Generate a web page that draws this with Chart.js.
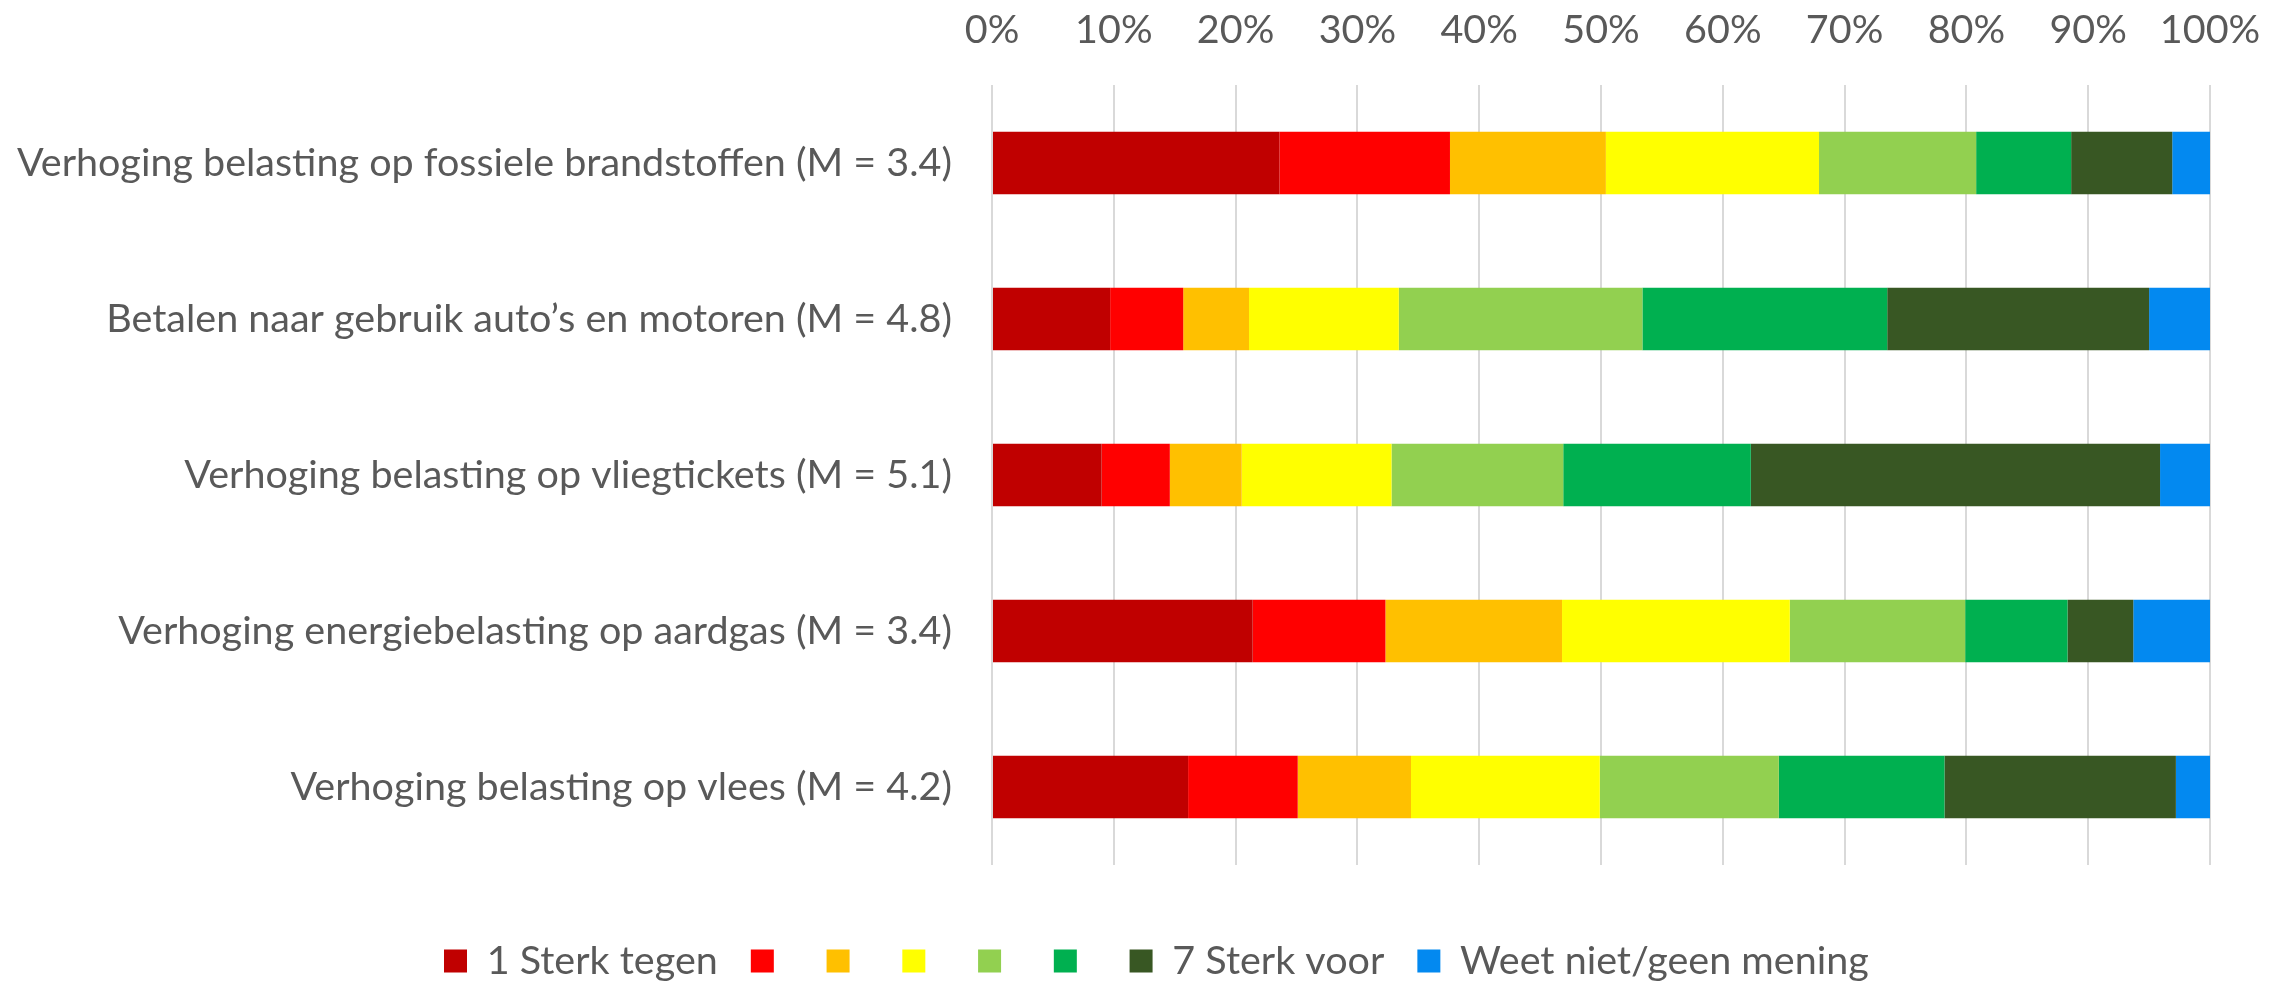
<!DOCTYPE html>
<html>
<head>
<meta charset="utf-8">
<script src="https://cdn.jsdelivr.net/npm/chart.js@4/dist/chart.umd.min.js"></script>
<style>
  html, body { margin: 0; padding: 0; background: #ffffff; }
  #wrap { width: 2280px; height: 987px; position: relative; }
</style>
</head>
<body>
<div id="wrap"><canvas id="c" width="2280" height="987"></canvas></div>
<script>
// ---- data ----
const categories = [
  "Verhoging belasting op fossiele brandstoffen (M = 3.4)",
  "Betalen naar gebruik auto’s en motoren (M = 4.8)",
  "Verhoging belasting op vliegtickets (M = 5.1)",
  "Verhoging energiebelasting op aardgas (M = 3.4)",
  "Verhoging belasting op vlees (M = 4.2)"
];
const seriesNames = ["1 Sterk tegen", "", "", "", "", "", "7 Sterk voor", "Weet niet/geen mening"];
const s1 = [23.6, 9.7, 9.0, 21.4, 16.1];
const s2 = [14.0, 6.0, 5.6, 10.9, 9.0];
const s3 = [12.8, 5.4, 5.9, 14.5, 9.3];
const s4 = [17.5, 12.3, 12.3, 18.7, 15.5];
const s5 = [12.9, 20.0, 14.1, 14.4, 14.7];
const s6 = [7.8, 20.1, 15.4, 8.4, 13.6];
const s7 = [8.3, 21.5, 33.6, 5.4, 19.0];
const s8 = [3.1, 5.0, 4.1, 6.3, 2.8];
const tickValues = [0, 10, 20, 30, 40, 50, 60, 70, 80, 90, 100];

// ---- styles ----
const colors = ["#C00000", "#FF0000", "#FFC000", "#FFFF00", "#92D050", "#00B050", "#385723", "#0389F0"];
const allSeries = [s1, s2, s3, s4, s5, s6, s7, s8];
const textColor = "#595959";
const fontFamily = "Lato, 'Liberation Sans', sans-serif";

// fit font size so the longest category label spans like the reference
const mctx = document.createElement("canvas").getContext("2d");
mctx.font = "100px " + fontFamily;
const w100 = mctx.measureText(categories[0]).width;
const fontSize = Math.round(100 * 934 / w100 * 10) / 10;

// layout targets (pixels)
const AREA_LEFT = 992, AREA_RIGHT_GAP = 70, AREA_TOP = 85, AREA_BOTTOM = 865;
const TICK_CENTER_Y = 30.5;
const LEGEND_CENTER_Y = 961, LEGEND_PAD = 33, BOX = 23, LEGEND_START_X = 444;
const titleGap = LEGEND_CENTER_Y - AREA_BOTTOM - LEGEND_PAD - fontSize / 2;
const legendHeight = titleGap + fontSize + LEGEND_PAD + 10;
const PAD_BOTTOM = 987 - AREA_BOTTOM - legendHeight;

// horizontal placement of the centred legend row
mctx.font = fontSize + "px " + fontFamily;
let rowW = 0;
seriesNames.forEach(n => { rowW += BOX + fontSize / 2 + mctx.measureText(n).width + LEGEND_PAD; });
const PAD_RIGHT = LEGEND_PAD + 2280 - rowW - 2 * LEGEND_START_X;

new Chart(document.getElementById("c"), {
  type: "bar",
  data: {
    labels: categories,
    datasets: allSeries.map((d, i) => ({
      label: seriesNames[i],
      data: d,
      backgroundColor: colors[i],
      borderWidth: 0,
      barPercentage: 1.0,
      categoryPercentage: 0.4
    }))
  },
  options: {
    indexAxis: "y",
    responsive: false,
    animation: false,
    devicePixelRatio: 1,
    layout: { padding: { left: 0, top: 0, right: PAD_RIGHT, bottom: PAD_BOTTOM } },
    plugins: {
      tooltip: { enabled: false },
      legend: {
        position: "bottom",
        title: { display: true, text: "", padding: { top: titleGap - 10, bottom: 0 }, font: { size: 10, lineHeight: 1, family: fontFamily } },
        labels: {
          color: textColor,
          font: { size: fontSize, family: fontFamily },
          boxWidth: BOX,
          boxHeight: BOX,
          padding: LEGEND_PAD
        }
      }
    },
    scales: {
      x: {
        position: "top",
        stacked: true,
        min: 0,
        max: 100,
        afterBuildTicks: (scale) => { scale.ticks = tickValues.map(v => ({ value: v })); },
        afterFit: (scale) => { scale.height = AREA_TOP; scale.paddingRight = AREA_RIGHT_GAP; },
        ticks: {
          color: textColor,
          font: { size: fontSize, family: fontFamily, lineHeight: (2 * (AREA_TOP - TICK_CENTER_Y)) + "px" },
          padding: 0,
          maxRotation: 0,
          callback: (v) => v + "%"
        },
        grid: { color: "#d9d9d9", lineWidth: 2, drawTicks: false },
        border: { display: false }
      },
      y: {
        stacked: true,
        afterFit: (scale) => { scale.width = AREA_LEFT; },
        ticks: {
          color: textColor,
          font: { size: fontSize, family: fontFamily },
          padding: 40
        },
        grid: { display: false, drawTicks: false },
        border: { display: false }
      }
    }
  }
});
</script>
</body>
</html>
